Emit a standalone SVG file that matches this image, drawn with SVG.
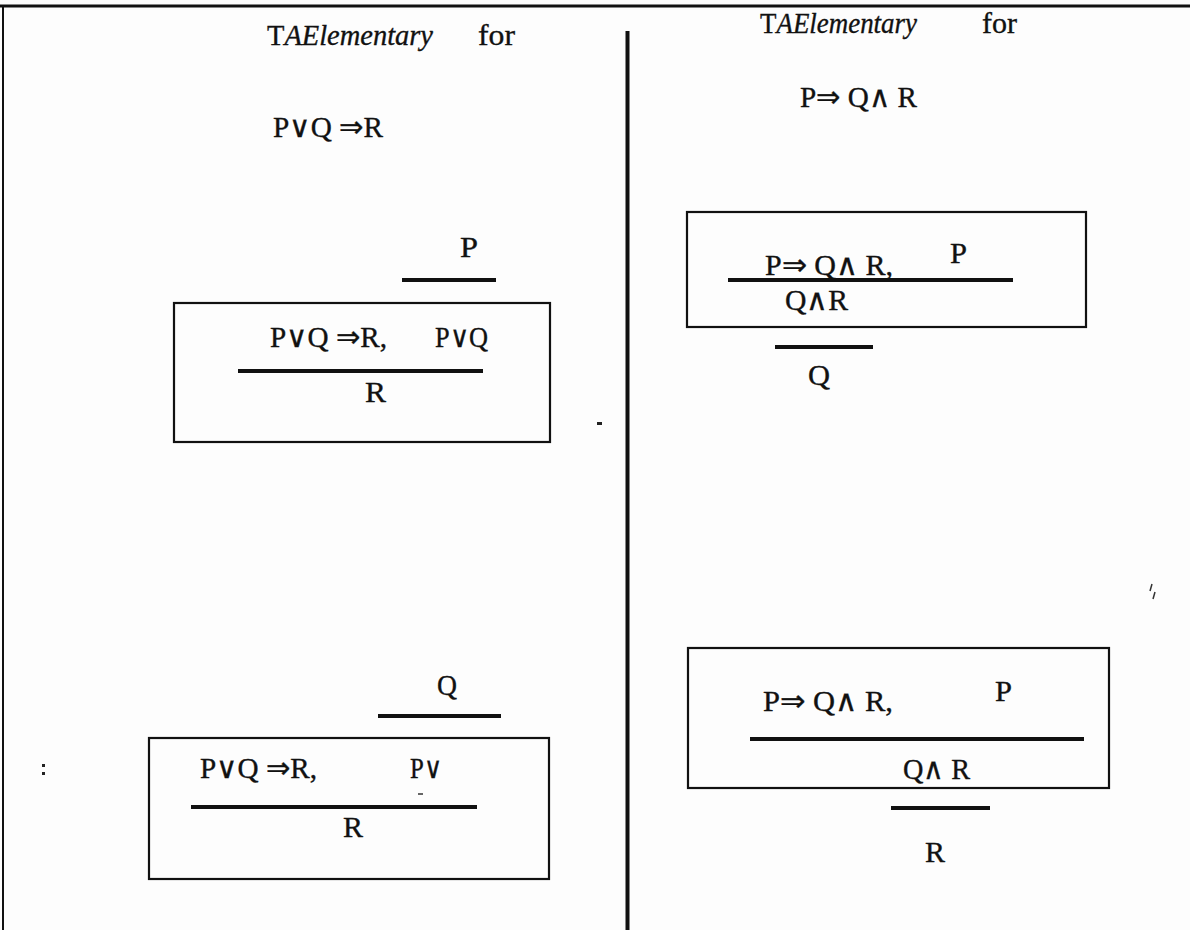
<svg xmlns="http://www.w3.org/2000/svg" width="1190" height="930" viewBox="0 0 1190 930">
<style>
text{font-family:"Liberation Serif","Times New Roman",serif;font-size:30px;fill:#111;stroke:#111;stroke-width:0.35}
.it{font-style:italic}
.box{fill:none;stroke:#111;stroke-width:2.2}
.bar{stroke:#111;stroke-width:4;fill:none}
.frame{stroke:#111;fill:none}
</style>
<rect width="1190" height="930" fill="#fdfdfd"/>
<g id="frame">
<line class="frame" x1="0" y1="6" x2="1190" y2="6" stroke-width="3"/>
<line class="frame" x1="3" y1="6" x2="3" y2="930" stroke-width="2"/>
<line class="frame" x1="627.5" y1="31" x2="627.5" y2="930" stroke-width="4"/>
</g>
<g id="title-left">
<text x="267" y="45" textLength="166" lengthAdjust="spacingAndGlyphs">T<tspan class="it">AElementary</tspan></text>
<text x="478" y="45" textLength="37" lengthAdjust="spacingAndGlyphs">for</text>
<text x="273" y="137" textLength="110" lengthAdjust="spacingAndGlyphs">P∨Q ⇒R</text>
</g>
<g id="title-right">
<text x="760" y="33" textLength="157" lengthAdjust="spacingAndGlyphs">T<tspan class="it">AElementary</tspan></text>
<text x="982" y="33" textLength="35" lengthAdjust="spacingAndGlyphs">for</text>
<text x="800" y="107" textLength="117" lengthAdjust="spacingAndGlyphs">P⇒ Q∧ R</text>
</g>
<g id="node-left-1">
<text x="460" y="257" textLength="18" lengthAdjust="spacingAndGlyphs">P</text>
<rect class="box" x="174" y="303" width="376" height="139"/>
<text x="270" y="347" textLength="117" lengthAdjust="spacingAndGlyphs">P∨Q ⇒R,</text>
<text x="435" y="347" textLength="53" lengthAdjust="spacingAndGlyphs">P∨Q</text>
<text x="365" y="402" textLength="21" lengthAdjust="spacingAndGlyphs">R</text>
</g>
<g id="node-right-1">
<rect class="box" x="687" y="212" width="399" height="115"/>
<text x="765" y="275" textLength="128" lengthAdjust="spacingAndGlyphs">P⇒ Q∧ R,</text>
<text x="950" y="263" textLength="17" lengthAdjust="spacingAndGlyphs">P</text>
<text x="785" y="310" textLength="63" lengthAdjust="spacingAndGlyphs">Q∧R</text>
<text x="808" y="385" textLength="22" lengthAdjust="spacingAndGlyphs">Q</text>
</g>
<g id="node-left-2">
<text x="437" y="695" textLength="20" lengthAdjust="spacingAndGlyphs">Q</text>
<rect class="box" x="149" y="738" width="400" height="141"/>
<text x="200" y="778" textLength="117" lengthAdjust="spacingAndGlyphs">P∨Q ⇒R,</text>
<text x="410" y="778" textLength="32" lengthAdjust="spacingAndGlyphs">P∨</text>
<line x1="418" y1="794" x2="423" y2="794" stroke="#333" stroke-width="1.5"/>
<text x="343" y="837" textLength="20" lengthAdjust="spacingAndGlyphs">R</text>
</g>
<g id="node-right-2">
<rect class="box" x="688" y="648" width="421" height="140"/>
<text x="763" y="711" textLength="130" lengthAdjust="spacingAndGlyphs">P⇒ Q∧ R,</text>
<text x="995" y="701" textLength="17" lengthAdjust="spacingAndGlyphs">P</text>
<text x="903" y="779" textLength="67" lengthAdjust="spacingAndGlyphs">Q∧ R</text>
<text x="925" y="862" textLength="20" lengthAdjust="spacingAndGlyphs">R</text>
</g>
<g id="connectors">
<line class="bar" x1="402" y1="280" x2="496" y2="280"/>
<line class="bar" x1="238" y1="371" x2="483" y2="371"/>
<line class="bar" x1="728" y1="280" x2="1013" y2="280"/>
<line class="bar" x1="775" y1="347" x2="873" y2="347"/>
<line class="bar" x1="378" y1="716" x2="501" y2="716"/>
<line class="bar" x1="191" y1="807" x2="477" y2="807"/>
<line class="bar" x1="750" y1="739" x2="1084" y2="739"/>
<line class="bar" x1="891" y1="808" x2="990" y2="808"/>
</g>
<g id="specks" fill="#222" stroke="none">
<rect x="42" y="764" width="3" height="3"/>
<rect x="42" y="772" width="3" height="3"/>
<rect x="597" y="422" width="5" height="3"/>
<path d="M1152 584 L1150 591 M1155 592 L1153 599" stroke="#333" stroke-width="1.5" fill="none"/>
</g>
</svg>
